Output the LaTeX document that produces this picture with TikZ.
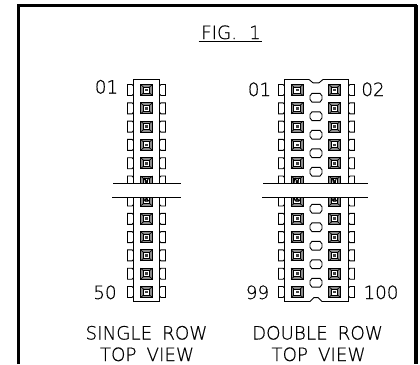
\documentclass[tikz,border=0pt]{standalone}
\usepackage{fontspec}
\newfontfamily\cad[UprightFont={* ExtraLight},RawFeature={embolden=0.5}]{DejaVu Sans}
\tikzset{
  x=1pt,y=-1pt,
  ln/.style={line width=0.9pt,black},
  lbl/.style={inner sep=0pt,font=\cad\fontsize{18.3}{18.3}\selectfont,anchor=base},
  frame/.style={line width=3pt,black},
  pics/contact/.style={code={
    \draw[line width=1pt,fill=black!45] (-6,-5.5) rectangle (6,5.5);
    \draw[line width=0.7pt] (-6,-5.5)--(-3,-3) (6,-5.5)--(3,-3) (-6,5.5)--(-3,3) (6,5.5)--(3,3);
    \draw[line width=0.9pt,fill=white] (-3.2,-3) rectangle (3.2,3);
    \fill[black!75] (-1.5,-1.4) rectangle (1.5,1.4);
  }},
  pics/ltab/.style={code={
    \draw[ln] (0,-4)--(-1.4,-5.5)--(-6,-5.5)--(-6,5.5)--(-1.4,5.5)--(0,4);
  }},
  pics/rtab/.style={code={
    \draw[ln] (0,-4)--(1.4,-5.5)--(6,-5.5)--(6,5.5)--(1.4,5.5)--(0,4);
  }},
  pics/vent/.style={code={
    \draw[ln] (-4,-4.4)--(4,-4.4)--(6,-1.8)--(6,1.8)--(4,4.4)--(-4,4.4)--(-6,1.8)--(-6,-1.8)--cycle;
  }},
  pics/cutup/.style={code={
    \draw[line width=1pt] (-3,0)..controls (-2.5,-6) and (-1,-6)..(-0.5,0)
      (0.5,0)..controls (1,-5) and (3,-6)..(3,-5);
  }},
  pics/cutdown/.style={code={
    \draw[line width=1pt] (-3,0)..controls (-2,5) and (-1,5)..(-0.5,1)
      (0.5,1)..controls (1,5) and (3,5)..(3.5,0);
  }},
}
\begin{document}
\begin{tikzpicture}
\useasboundingbox (0,0) rectangle (420,364);
% frame
\draw[frame] (18.5,364)--(18.5,5.5)--(415.5,5.5)--(415.5,364);
\draw[line width=1.4pt] (414.6,5)--(414.6,364) (417,5)--(417,364);
% title
\node[lbl] (title) at (231,39) {FIG.\hspace{12pt}1};
\draw[ln] (198.5,41.5)--(262,41.5);
% single row body
\begin{scope}
\clip (100,70) rectangle (190,183.5);
\draw[ln] (133.5,190)--(133.5,79.5)--(159.5,79.5)--(159.5,190);
\foreach \y in {90,108.3,126.6,144.9,163.2,181.5}{
  \pic at (146.5,\y) {contact};
  \pic at (133.5,\y) {ltab};
  \pic at (159.5,\y) {rtab};
}
\pic at (146.5,183) {cutup};
\end{scope}
\begin{scope}
\clip (100,197.5) rectangle (190,310);
\draw[ln] (133.5,190)--(133.5,301.5)--(159.5,301.5)--(159.5,190);
\foreach \y in {200.5,218.8,237.1,255.4,273.7,292}{
  \pic at (146.5,\y) {contact};
  \pic at (133.5,\y) {ltab};
  \pic at (159.5,\y) {rtab};
}
\pic at (146.5,197) {cutdown};
\end{scope}
\draw[ln] (113,183.5)--(181,183.5) (112,197.5)--(181,197.5);
% double row body
\begin{scope}
\clip (270,70) rectangle (360,183.5);
\draw[ln] (284.5,190)--(284.5,79.5)--(309,79.5)--(313,82.8)--(319,82.8)--(323,79.5)--(348.5,79.5)--(348.5,190);
\foreach \y in {90,108.3,126.6,144.9,163.2,181.5}{
  \pic at (297,\y) {contact};
  \pic at (334.6,\y) {contact};
  \pic at (284.5,\y) {ltab};
  \pic at (348.5,\y) {rtab};
}
\pic at (297,183) {cutup};
\pic at (334.6,183) {cutup};
\foreach \y in {97.7,116.2,134.7,153.2,171.7}{\pic at (316,\y) {vent};}
\end{scope}
\begin{scope}
\clip (270,197.5) rectangle (360,310);
\draw[ln] (284.5,190)--(284.5,301.5)--(310,301.5)--(314,297.6)--(318,297.6)--(322,301.5)--(348.5,301.5)--(348.5,190);
\foreach \y in {200.5,218.8,237.1,255.4,273.7,292}{
  \pic at (297,\y) {contact};
  \pic at (334.6,\y) {contact};
  \pic at (284.5,\y) {ltab};
  \pic at (348.5,\y) {rtab};
}
\pic at (297,197) {cutdown};
\pic at (334.6,197) {cutdown};
\foreach \y in {208.7,227.2,245.7,264.2,282.7}{\pic at (316,\y) {vent};}
\end{scope}
\draw[ln] (263,183.5)--(368,183.5) (262,197.5)--(368,197.5);
% labels
\node[lbl] (a1) at (106.5,93.5) {01};
\node[lbl] (a2) at (105,299) {50};
\node[lbl] (b1) at (259.5,96) {01};
\node[lbl] (b2) at (373,96) {02};
\node[lbl] (b3) at (257.5,299) {99};
\node[lbl] (b4) at (381,299) {100};
\node[lbl] (c1) at (146.5,339.5) {SINGLE\hspace{10pt}ROW};
\node[lbl] (c2) at (147,361) {TOP\hspace{10pt}VIEW};
\node[lbl] (c3) at (317.5,339.5) {DOUBLE\hspace{10pt}ROW};
\node[lbl] (c4) at (318.5,361) {TOP\hspace{10pt}VIEW};
\end{tikzpicture}
\end{document}
